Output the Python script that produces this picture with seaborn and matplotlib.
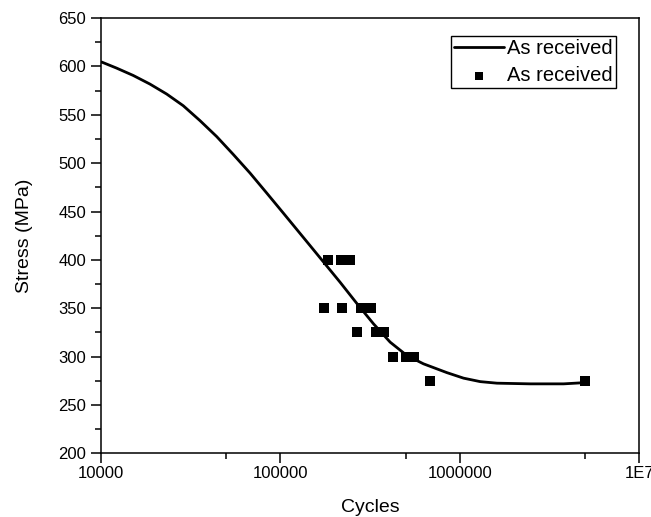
#!/usr/bin/env python3
"""S-N curve, as-received material: fitted curve plus test points."""

import matplotlib

matplotlib.use("Agg")
import matplotlib.pyplot as plt
import pandas as pd
import seaborn as sns
from matplotlib.ticker import FixedLocator, FuncFormatter, MultipleLocator

# fitted curve
CURVE_CYCLES = [
    10090, 12230, 15140, 18760, 23250, 28770, 35660, 44190, 54690,
    67760, 83990, 103900, 126000, 146400, 173700, 215300, 266800,
    330200, 409100, 507000, 627400, 847300, 1048600, 1299700,
    1610000, 2470000, 3788000, 5000000,
]
CURVE_STRESS = [
    604.6, 598.3, 590.7, 581.8, 571.5, 559.4, 544.0, 527.5, 509.0,
    489.8, 469.1, 448.4, 429.5, 414.8, 398.0, 376.9, 355.0,
    334.0, 315.0, 301.2, 292.6, 283.5, 277.8, 274.2,
    272.6, 271.9, 271.9, 273.2,
]

# test points
POINT_CYCLES = [
    184500, 217000, 244700,
    175300, 220800, 280700, 320500,
    268700, 341800, 378700,
    423600, 502000, 556600,
    677700, 5000000,
]
POINT_STRESS = [
    400, 400, 400,
    350, 350, 350, 350,
    325, 325, 325,
    300, 300, 300,
    275, 275,
]

X_MAJOR = [1e4, 1e5, 1e6, 1e7]
X_MINOR = [5e4, 5e5, 5e6]
X_LABELS = {1e4: "10000", 1e5: "100000", 1e6: "1000000", 1e7: "1E7"}

LABEL = "As received"


def setup_style() -> None:
    sns.set_theme(style="white")
    plt.rcParams.update(
        {
            "font.family": ["Liberation Sans", "DejaVu Sans"],
            "axes.edgecolor": "black",
            "axes.linewidth": 1.1,
            "xtick.color": "black",
            "ytick.color": "black",
            "text.color": "black",
            "axes.labelcolor": "black",
        }
    )


def main() -> None:
    setup_style()
    curve = pd.DataFrame({"Cycles": CURVE_CYCLES, "Stress": CURVE_STRESS})
    points = pd.DataFrame({"Cycles": POINT_CYCLES, "Stress": POINT_STRESS})

    fig = plt.figure(figsize=(6.51, 5.17), dpi=100)
    ax = fig.add_axes([0.155, 0.123, 0.827, 0.842])

    sns.lineplot(data=curve, x="Cycles", y="Stress", color="black", linewidth=2.0,
                 sort=False, estimator=None, label=LABEL, ax=ax)
    sns.scatterplot(data=points, x="Cycles", y="Stress", color="black", marker="s",
                    s=42, linewidth=0, label=LABEL, ax=ax, zorder=3)

    ax.set_xscale("log")
    ax.set_xlim(1e4, 1e7)
    ax.set_ylim(200, 650)
    ax.xaxis.set_major_locator(FixedLocator(X_MAJOR))
    ax.xaxis.set_minor_locator(FixedLocator(X_MINOR))
    ax.xaxis.set_major_formatter(FuncFormatter(lambda v, _: X_LABELS.get(v, "")))
    ax.xaxis.set_minor_formatter(FuncFormatter(lambda v, _: ""))
    ax.yaxis.set_major_locator(MultipleLocator(50))
    ax.yaxis.set_minor_locator(MultipleLocator(25))

    ax.tick_params(axis="both", which="major", direction="out", length=7, width=1.1,
                   labelsize=12, bottom=True, left=True, top=False, right=False)
    ax.tick_params(axis="x", which="major", pad=2)
    ax.tick_params(axis="both", which="minor", direction="out", length=4, width=1.1,
                   bottom=True, left=True, top=False, right=False)

    ax.set_xlabel("Cycles", fontsize=14, labelpad=13)
    ax.set_ylabel("Stress (MPa)", fontsize=14, labelpad=18)
    for side in ["top", "right", "bottom", "left"]:
        ax.spines[side].set_visible(True)

    leg = ax.legend(loc="upper right", bbox_to_anchor=(0.957, 0.959), fontsize=14.5,
                    frameon=True, fancybox=False, handlelength=2.5, handletextpad=0.15,
                    borderpad=0.15, labelspacing=0.4, borderaxespad=0.0, markerscale=0.85)
    leg.get_frame().set_edgecolor("black")
    leg.get_frame().set_linewidth(1.0)
    leg.get_frame().set_alpha(1.0)

    fig.savefig("out.png", dpi=100, facecolor="white")
    plt.close(fig)


if __name__ == "__main__":
    main()
